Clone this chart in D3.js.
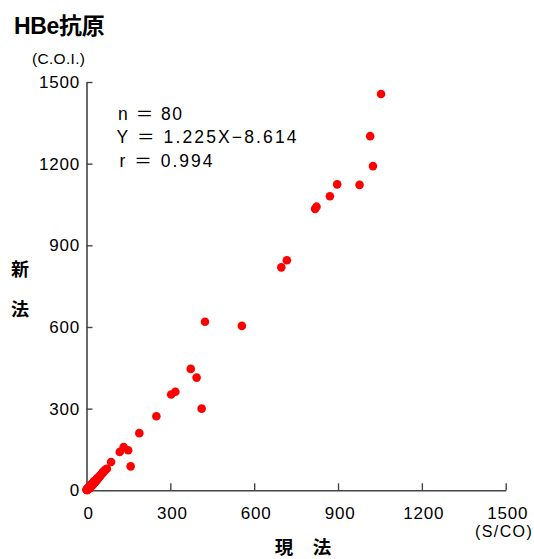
<!DOCTYPE html>
<html>
<head>
<meta charset="utf-8">
<script src="https://cdn.jsdelivr.net/npm/d3@7"></script>
<style>
  html, body { margin: 0; padding: 0; background: #fff; }
  svg { display: block; }
  text { font-family: "Liberation Sans", Arial, "Noto Sans CJK JP", sans-serif; fill: #000; }
</style>
</head>
<body>
<svg id="chart" width="534" height="559"></svg>
<script>
// ---- data ----
const title = "HBe抗原";
const yUnit = "(C.O.I.)";
const xUnit = "(S/CO)";
const yLabelChars = ["新", "法"];
const xLabelChars = ["現", "法"];
const statsLines = ["n ＝ 80", "Y ＝ 1.225X−8.614", "r ＝ 0.994"];
const xTicks = [0, 300, 600, 900, 1200, 1500];
const yTicks = [0, 300, 600, 900, 1200, 1500];

// current method (x, S/CO)
const xValues = [
  1054, 1015, 1025, 897, 977, 871, 818, 823, 717, 697,
  556, 424, 373, 394, 303, 318, 412, 250, 189, 88,
  119, 133, 149, 158,
  1, 2, 0, 1, 3, 2, 3, 4, 5, 6,
  7, 8, 9, 10, 11, 12, 13, 14, 15, 16,
  17, 18, 19, 20, 21, 22, 23, 24, 25, 26,
  27, 28, 29, 30, 31, 32, 34, 35, 37, 38,
  40, 41, 43, 44, 46, 48, 50, 52, 54, 56,
  58, 60, 62, 65, 68, 73
];
// new method (y, C.O.I.)
const yValues = [
  1456, 1301, 1191, 1124, 1122, 1080, 1034, 1042, 845, 819,
  604, 619, 446, 414, 352, 362, 300, 272, 210, 104,
  141, 159, 147, 88,
  1, 1, 2, 4, 1, 3, 5, 2, 8, 4,
  10, 6, 12, 9, 14, 8, 16, 12, 18, 14,
  20, 16, 22, 18, 25, 20, 27, 22, 30, 26,
  32, 28, 34, 30, 36, 33, 38, 34, 42, 40,
  45, 43, 48, 46, 50, 52, 55, 57, 60, 62,
  65, 66, 70, 72, 76, 79
];

// ---- drawing ----
const svg = d3.select("#chart");
const x = d3.scaleLinear().domain([0, 1500]).range([86.5, 505.7]);
const y = d3.scaleLinear().domain([0, 1500]).range([490.3, 82]);
const fmt = d3.format("d");

// title & units
svg.append("text").attr("x", 14).attr("y", 33.5)
  .attr("font-size", 23).attr("font-weight", "bold").attr("letter-spacing", -0.3)
  .text(title);
svg.append("text").attr("x", 32).attr("y", 63.5)
  .attr("font-size", 15.5).attr("letter-spacing", 0.3).text(yUnit);
svg.append("text").attr("x", 475).attr("y", 537)
  .attr("font-size", 16).attr("letter-spacing", 1.4).text(xUnit);

// axes
const axisColor = "#444";
const gx = svg.append("g").attr("transform", `translate(0,${y(0)})`)
  .call(d3.axisBottom(x).tickValues(xTicks).tickFormat(fmt).tickSizeInner(-7).tickSizeOuter(0).tickPadding(17));
const gy = svg.append("g").attr("transform", `translate(${x(0)},0)`)
  .call(d3.axisLeft(y).tickValues(yTicks).tickFormat(fmt).tickSizeInner(-6).tickSizeOuter(0).tickPadding(7));
[gx, gy].forEach(g => {
  g.select(".domain").attr("stroke", axisColor).attr("stroke-width", 1.6);
  g.selectAll(".tick line").attr("stroke", axisColor).attr("stroke-width", 1.4);
  g.selectAll(".tick text").attr("font-size", 17).attr("letter-spacing", 0.8)
    .attr("fill", "#000").style("font-family", '"Liberation Sans", Arial, sans-serif');
});
gx.selectAll(".tick text").attr("dx", 1.5);
gy.selectAll(".tick text").attr("dx", 0.5);

// axis titles
const yLabelPos = [268, 308];
yLabelChars.forEach((c, i) => {
  svg.append("text").attr("x", 20).attr("y", yLabelPos[i])
    .attr("text-anchor", "middle").attr("dominant-baseline", "central")
    .attr("font-size", 18).attr("font-weight", "bold")
    .style("font-family", '"Noto Sans CJK JP", sans-serif').text(c);
});
const xLabelPos = [284, 322];
xLabelChars.forEach((c, i) => {
  svg.append("text").attr("x", xLabelPos[i]).attr("y", 546)
    .attr("text-anchor", "middle").attr("dominant-baseline", "central")
    .attr("font-size", 18.5).attr("font-weight", "bold")
    .style("font-family", '"Noto Sans CJK JP", sans-serif').text(c);
});

// stats
const statsX = [118, 116.5, 119.5];
const statsY = [120, 142.7, 166.7];
const statsW = [64, 180, 93];
statsLines.forEach((s, i) => {
  svg.append("text").attr("x", statsX[i]).attr("y", statsY[i])
    .attr("font-size", 17.5)
    .attr("textLength", statsW[i]).attr("lengthAdjust", "spacing")
    .text(s);
});

// points
const points = xValues.map((v, i) => ({ x: v, y: yValues[i] }));
svg.append("g").selectAll("circle").data(points).join("circle")
  .attr("cx", d => x(d.x)).attr("cy", d => y(d.y)).attr("r", 4.3)
  .attr("fill", "#ff0000");
</script>
</body>
</html>
